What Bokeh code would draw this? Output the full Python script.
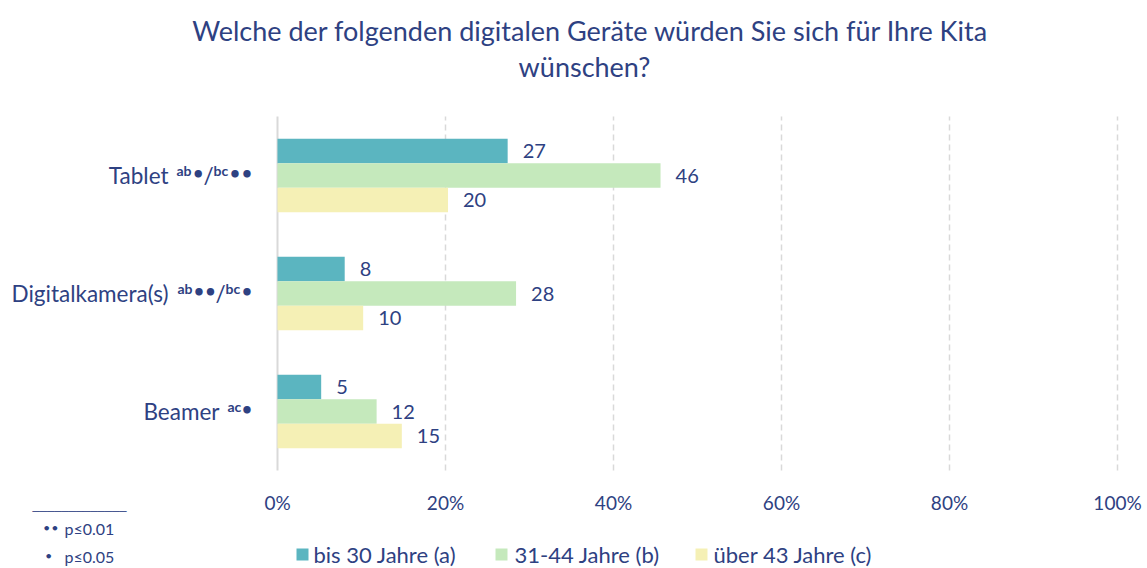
from bokeh.plotting import figure
from bokeh.models import ColumnDataSource, Range1d
from bokeh.core.properties import value
from bokeh.embed import file_html
from bokeh.resources import INLINE

# ---------------- data ----------------
categories = ["Tablet", "Digitalkamera(s)", "Beamer"]
series_names = ["bis 30 Jahre (a)", "31-44 Jahre (b)", "über 43 Jahre (c)"]
bis30 = [27.4, 8.0, 5.2]
j31_44 = [45.6, 28.4, 11.8]
ueber43 = [20.3, 10.2, 14.8]
x_ticks = [0, 20, 40, 60, 80, 100]
x_tick_labels = ["0%", "20%", "40%", "60%", "80%", "100%"]
title_lines = ["Welche der folgenden digitalen Geräte würden Sie sich für Ihre Kita",
               "wünschen?"]
footnote_rule = "_____________"
footnote_marks = ["••", "•"]
footnote_texts = ["p≤0.01", "p≤0.05"]

# ---------------- style / layout ----------------
FONT = value("Lato")
DOTFONT = value("DejaVu Sans")
TXT = "#2E4182"
COLORS = ["#5BB5C0", "#C5E9BC", "#F5F0B5"]
GRID = "#D9D9D9"

W, H = 1147, 568
PX0 = 277          # page x of 0 %
XS = 8.4           # px per percent
PY0 = 116          # page y of plot-area top
YS = 118.0         # px per category slot


def dx(px):
    return (px - PX0) / XS


def dy(py):
    return 3 - (py - PY0) / YS


p = figure(width=W, height=H, output_backend="svg", toolbar_location=None,
           x_range=Range1d(dx(0), dx(W)), y_range=Range1d(dy(H), dy(0)),
           min_border=0)
p.outline_line_color = None
p.background_fill_color = "white"
p.border_fill_color = "white"
p.axis.visible = False
p.grid.visible = False

# gridlines and axis line
p.segment(x0=x_ticks[1:], x1=x_ticks[1:], y0=0, y1=3, line_color=GRID,
          line_width=1.5, line_dash="6 4")
p.segment(x0=[0], x1=[0], y0=0, y1=3, line_color=GRID, line_width=2)

# tick labels
p.text(x=x_ticks, y=dy(502), text=x_tick_labels, text_align="center",
       text_baseline="middle", text_font=FONT, text_font_size="19px",
       text_color=TXT)

# bars
bh = 24.5 / YS
centers = [2.5 - i for i in range(len(categories))]
series = [bis30, j31_44, ueber43]
for k, vals in enumerate(series):
    ys = [c + (1 - k) * bh for c in centers]
    src = ColumnDataSource(dict(y=ys, right=vals,
                                lab=[str(int(round(v))) for v in vals]))
    p.hbar(y="y", left=0, right="right", height=bh, source=src,
           fill_color=COLORS[k], line_color=None)
    p.text(x="right", y="y", text="lab", source=src, x_offset=15,
           text_align="left", text_baseline="middle", text_font=FONT,
           text_font_size="20px", text_color=TXT)

# title
p.text(x=[dx(590), dx(584)], y=[dy(30), dy(66)], text=title_lines,
       text_align="center", text_baseline="middle", text_font=FONT,
       text_font_size="27px", text_color=TXT)

# category labels with significance marks (superscript group letters, dots, slash)
cat_right = [168, 168, 219]
cat_marks = [
    [("ab", 176, "sup"), ("•", 197.8, "dot"), ("/", 203, "norm"), ("bc", 213, "sup"),
     ("•", 234.5, "dot"), ("•", 246.5, "dot")],
    [("ab", 177, "sup"), ("•", 198.5, "dot"), ("•", 210, "dot"), ("/", 215, "norm"),
     ("bc", 225, "sup"), ("•", 246.5, "dot")],
    [("ac", 227, "sup"), ("•", 246.5, "dot")],
]
p.text(x=[dx(r) for r in cat_right], y=centers, text=categories,
       text_align="right", text_baseline="middle", text_font=FONT,
       text_font_size="22.5px", text_color=TXT)
for c, marks in zip(centers, cat_marks):
    for txt, lx, kind in marks:
        if kind == "sup":
            p.text(x=[dx(lx)], y=[c + 5 / YS], text=[txt], text_align="left",
                   text_baseline="middle", text_font=FONT,
                   text_font_style="bold", text_font_size="14px", text_color=TXT)
        elif kind == "dot":
            p.text(x=[dx(lx)], y=[c + 1 / YS], text=[txt], text_align="center",
                   text_baseline="middle", text_font=DOTFONT,
                   text_font_style="bold", text_font_size="21px", text_color=TXT)
        else:
            p.text(x=[dx(lx)], y=[c], text=[txt], text_align="left",
                   text_baseline="middle", text_font=FONT,
                   text_font_size="22.5px", text_color=TXT)

# footnotes
p.text(x=[dx(32)], y=[dy(511)], text=[footnote_rule], text_align="left",
       text_baseline="bottom", text_font=value("Liberation Sans"),
       text_font_size="13px", text_color=TXT)
for mark, txt, mx, py in zip(footnote_marks, footnote_texts, [42, 44], [528, 556]):
    p.text(x=[dx(mx)], y=[dy(py)], text=[mark], text_align="left",
           text_baseline="middle", text_font=DOTFONT, text_font_style="bold",
           text_font_size="13px", text_color=TXT)
    p.text(x=[dx(64)], y=[dy(py)], text=[txt], text_align="left",
           text_baseline="middle", text_font=FONT, text_font_size="16px",
           text_color=TXT)

# legend
leg_sq = [302, 501, 701]
leg_tx = [313, 514, 713]
p.scatter(x=[dx(v) for v in leg_sq], y=dy(554), marker="square", size=12,
          fill_color=COLORS, line_color=None)
p.text(x=[dx(v) for v in leg_tx], y=dy(554), text=series_names,
       text_align="left", text_baseline="middle", text_font=FONT,
       text_font_size="22px", text_color=TXT)

open("out.html", "w").write(file_html(p, INLINE))
